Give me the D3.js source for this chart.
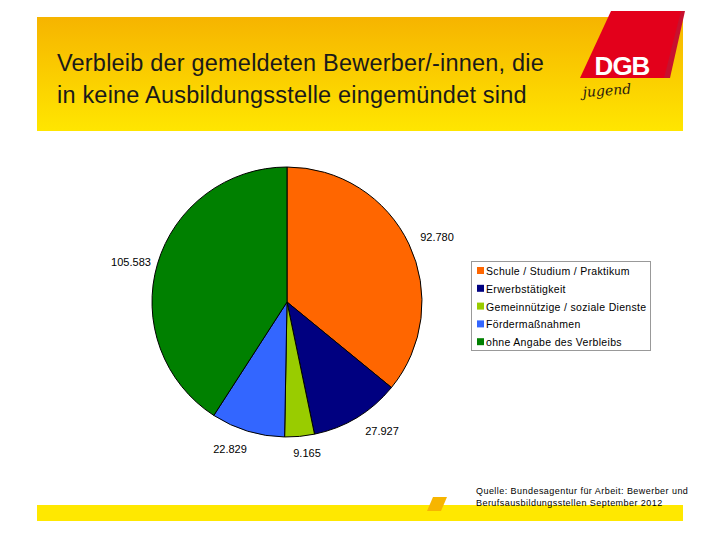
<!DOCTYPE html>
<html><head><meta charset="utf-8">
<script src="https://cdn.jsdelivr.net/npm/d3@7"></script>
<style>body{margin:0;background:#fff}svg{display:block}</style>
</head><body>
<svg id="c" width="720" height="540"></svg>
<script>
const categories = ["Schule / Studium / Praktikum","Erwerbstätigkeit","Gemeinnützige / soziale Dienste","Fördermaßnahmen","ohne Angabe des Verbleibs"];
const values = [92780, 27927, 9165, 22829, 105583];
const valueLabels = ["92.780","27.927","9.165","22.829","105.583"];
const colors = ["#ff6600","#000080","#99cc00","#3366ff","#008000"];
const titleLines = ["Verbleib der gemeldeten Bewerber/-innen, die","in keine Ausbildungsstelle eingemündet sind"];
const sourceLines = ["Quelle: Bundesagentur für Arbeit: Bewerber und","Berufsausbildungsstellen September 2012"];

const svg = d3.select("#c");
const defs = svg.append("defs");
const g = defs.append("linearGradient").attr("id","ban").attr("x1",0).attr("y1",0).attr("x2",0).attr("y2",1);
g.append("stop").attr("offset","0%").attr("stop-color","#f6b400");
g.append("stop").attr("offset","100%").attr("stop-color","#ffe600");

svg.append("rect").attr("x",37).attr("y",17).attr("width",646).attr("height",114).attr("fill","url(#ban)");
svg.selectAll("text.title").data(titleLines).join("text").attr("class","title")
  .attr("x",57).attr("y",(d,i)=>71+i*32).attr("font-family","Liberation Sans, Arial, sans-serif")
  .attr("font-size",23.5).attr("letter-spacing",0.2).attr("fill","#1a1a1a").text(d=>d);

// logo
svg.append("path").attr("d","M615,11 L685,11 L670,78 L586,78 Z").attr("fill","#c8102e");
svg.append("path").attr("d","M611,11 L681,11 L664,78 L580,78 Z").attr("fill","#e3001b");
svg.append("text").attr("x",622).attr("y",75).attr("text-anchor","middle").attr("font-family","Liberation Sans, Arial, sans-serif")
  .attr("font-weight","bold").attr("font-size",26).attr("fill","#fff").attr("letter-spacing",-1).text("DGB");
svg.append("text").attr("x",583).attr("y",97).attr("font-family","DejaVu Serif, serif").attr("font-style","italic")
  .attr("font-size",14).attr("fill","#2a1a10").attr("transform","rotate(-4,583,97)").text("jugend");

// bottom
svg.append("rect").attr("x",37).attr("y",505).attr("width",646).attr("height",16).attr("fill","#ffe800");
svg.append("path").attr("d","M433,497 L447,497 L441,511 L427,511 Z").attr("fill","#f7b500");
svg.selectAll("text.src").data(sourceLines).join("text").attr("class","src")
  .attr("x",476).attr("y",(d,i)=>494+i*12).attr("font-family","Liberation Sans, Arial, sans-serif")
  .attr("font-size",9).attr("letter-spacing",0.45).attr("fill","#000").text(d=>d);

// pie
const cx=287, cy=302, r=135;
const pie = d3.pie().sort(null).value(d=>d)(values);
const arc = d3.arc().innerRadius(0).outerRadius(r);
const pg = svg.append("g").attr("transform",`translate(${cx},${cy})`);
pg.selectAll("path").data(pie).join("path").attr("d",arc)
  .attr("fill",(d,i)=>colors[i]).attr("stroke","#000").attr("stroke-width",1);

const labelPos = [[437,241],[382,435],[307,457],[230,453],[131,266]];
svg.selectAll("text.vl").data(pie).join("text").attr("class","vl")
  .attr("x",(d,i)=>labelPos[i][0]).attr("y",(d,i)=>labelPos[i][1]).attr("text-anchor","middle")
  .attr("font-family","Liberation Sans, Arial, sans-serif").attr("font-size",11).attr("fill","#000")
  .text((d,i)=>valueLabels[i]);

// legend
svg.append("rect").attr("x",471.5).attr("y",261.5).attr("width",179).attr("height",89).attr("fill","#fff").attr("stroke","#999");
const lg = svg.selectAll("g.leg").data(categories).join("g").attr("class","leg")
  .attr("transform",(d,i)=>`translate(477,${271+i*17.8})`);
lg.append("rect").attr("x",0).attr("y",-4).attr("width",7).attr("height",7).attr("fill",(d,i)=>colors[i]);
lg.append("text").attr("x",9).attr("y",4).attr("font-family","Liberation Sans, Arial, sans-serif")
  .attr("font-size",10.5).attr("letter-spacing",0.32).attr("fill","#000").text(d=>d);
</script>
</body></html>
